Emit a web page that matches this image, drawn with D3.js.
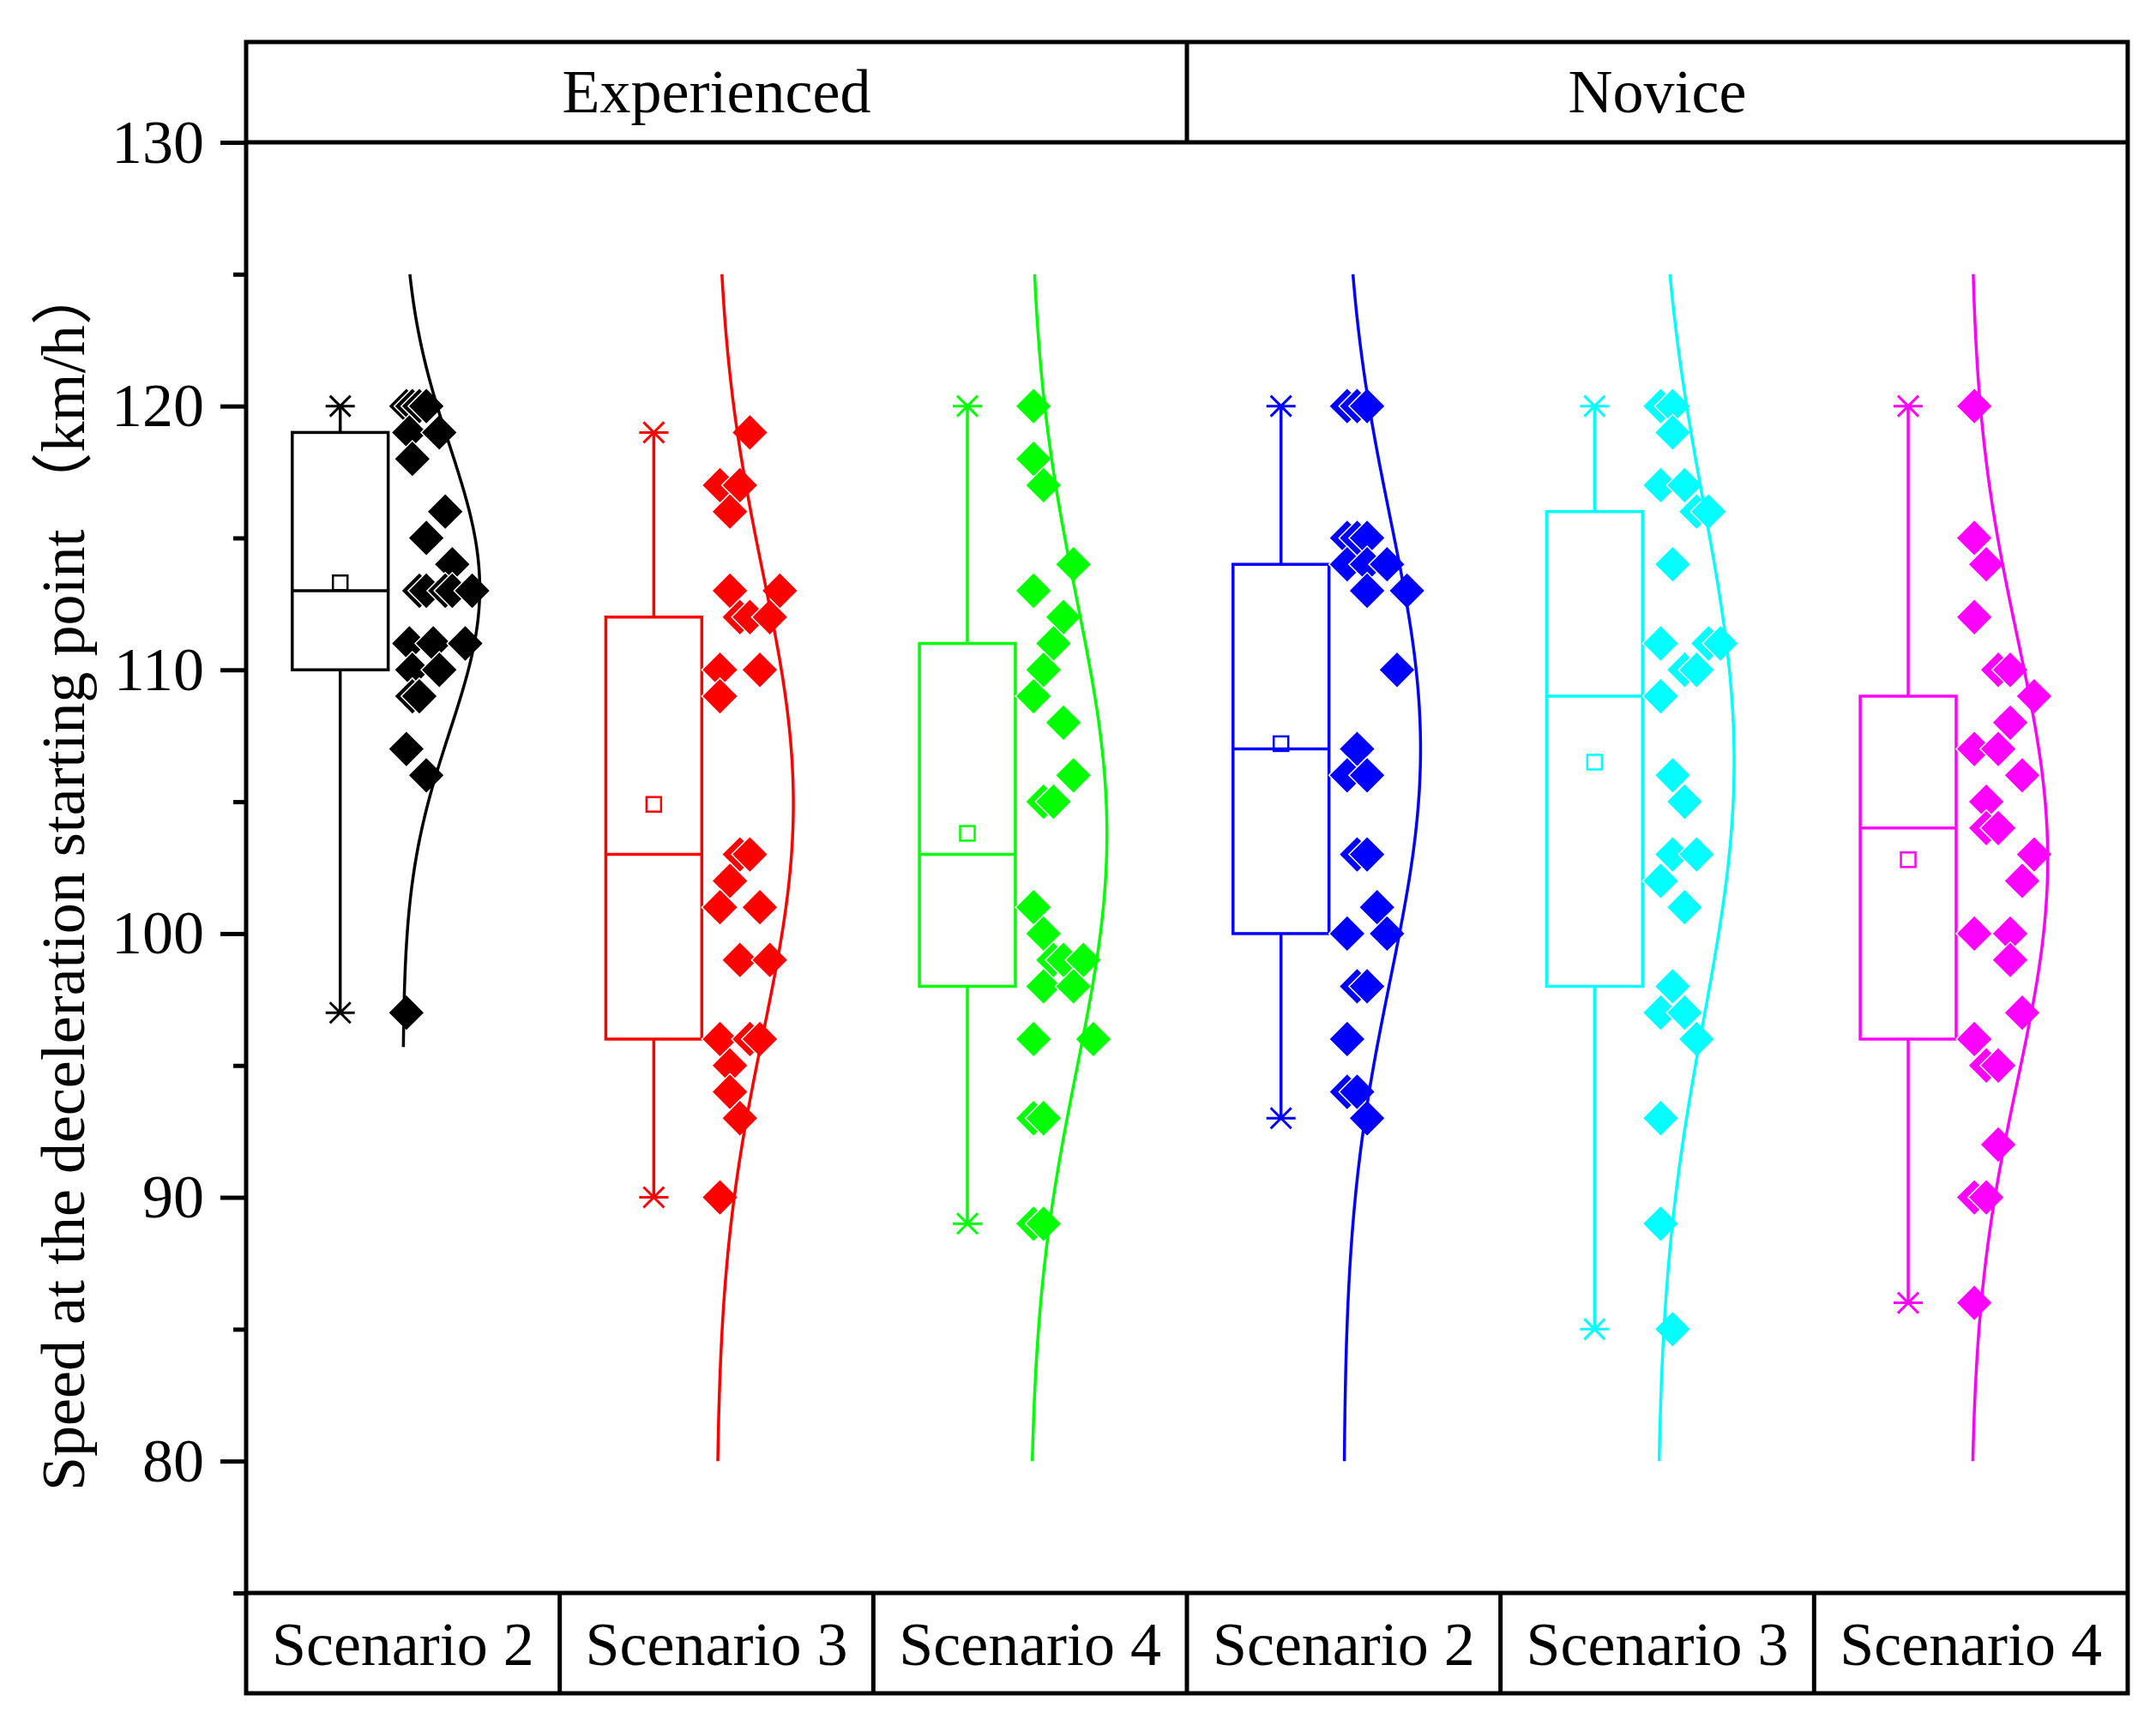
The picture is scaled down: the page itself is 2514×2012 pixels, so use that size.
<!DOCTYPE html>
<html>
<head>
<meta charset="utf-8">
<script src="https://cdn.jsdelivr.net/npm/d3@7/dist/d3.min.js"></script>
<style>
  body { margin: 0; background: #fff; }
</style>
</head>
<body>
<script>
// canvas + frame
const WIDTH = 2514;
const HEIGHT = 2012;
const LEFT = 287, RIGHT = 2481;
const TOP = 49, HEAD = 166, CATTOP = 1858, BOTTOM = 1975;
const FONT = "'Liberation Serif', 'Times New Roman', 'Noto Sans CJK SC', serif";

// categories
const driverGroups = ["Experienced", "Novice"];
const scenarios = ["Scenario 2", "Scenario 3", "Scenario 4", "Scenario 2", "Scenario 3", "Scenario 4"];
const colors = ["#000000", "#ff0000", "#00ff00", "#0000ff", "#00ffff", "#ff00ff"];
const majorTicks = [80, 90, 100, 110, 120, 130];
const minorTicks = [75, 85, 95, 105, 115, 125];

// raw speeds (km/h) and jitter column of each point
const expS2 = [120,120,120,120,119,119,118,116,115,114,113,113,113,113,113,111,111,111,110,110,109,109,107,106,97];
const expS2Jit = [0,0.6,1.3,2,0.3,3.3,0.6,3.9,2,4.6,1.3,2,3.9,4.6,6.6,0.3,2.7,5.9,0.6,3.3,0.6,1.3,0,2,0];

const expS3 = [119,117,117,116,113,113,112,112,112,110,110,109,103,103,102,101,101,99,99,96,96,96,95,94,93,90];
const expS3Jit = [3,0,2,1,1,6,2,3,5,0,4,0,2,3,1,0,4,2,5,0,3,4,1,1,2,0];

const expS4 = [120,118,117,114,113,112,111,110,109,108,106,105,105,101,100,99,99,99,98,98,96,96,93,93,89,89];
const expS4Jit = [0,0,1,4,0,3,2,1,0,3,4,1,2,0,1,2,3,5,1,4,0,6,0,1,0,1];

const novS2 = [120,120,120,115,115,115,114,114,114,113,113,110,107,106,106,103,103,101,100,100,98,98,96,94,94,93];
const novS2Jit = [0,1,2,0,1,2,0,2,4,2,6,5,1,0,2,1,2,3,0,4,1,2,0,0,1,2];

const novS3 = [120,120,119,117,117,116,116,114,111,111,111,110,110,109,106,105,103,103,102,101,98,97,97,96,93,89,85];
const novS3Jit = [0,1.2,1.2,0,2.4,3.6,4.8,1.2,0,4.8,6,2.4,3.6,0,1.2,2.4,1.2,3.6,0,2.4,1.2,0,2.4,3.6,0,0,1.2];

const novS4 = [120,115,114,112,110,110,109,108,107,107,106,105,104,104,103,102,100,100,99,97,96,95,95,92,90,90,86];
const novS4Jit = [0,0,1.2,0,2.4,3.6,6,3.6,0,2.4,4.8,1.2,1.2,2.4,6,4.8,0,3.6,3.6,4.8,0,1.2,2.4,2.4,0,1.2,0];

// box statistics
const q1 = [110, 96, 98, 100, 98, 96];
const medians = [113, 103, 103, 107, 109, 104];
const q3 = [119, 112, 111, 114, 116, 109];
const whiskerLo = [97, 90, 89, 93, 85, 86];
const whiskerHi = [120, 119, 120, 120, 120, 120];
const means = [113.3, 104.9, 103.8, 107.2, 106.5, 102.8];

// range over which each normal curve is drawn
const curveLo = [95.7, 80, 80, 80, 80, 80];
const curveHi = [125, 125, 125, 125, 125, 125];

const values = [expS2, expS3, expS4, novS2, novS3, novS4];
const jitters = [expS2Jit, expS3Jit, expS4Jit, novS2Jit, novS3Jit, novS4Jit];

const svg = d3.select("body").append("svg")
    .attr("width", WIDTH)
    .attr("height", HEIGHT)
    .style("background", "#fff");

const x = d3.scaleBand().domain(d3.range(scenarios.length)).range([LEFT, RIGHT]);
const xGroup = d3.scaleBand().domain(driverGroups).range([LEFT, RIGHT]);
const y = d3.scaleLinear().domain([75, 130]).range([CATTOP, HEAD]);

const bw = x.bandwidth();
const center = i => x(i) + bw / 2;

// y axis ticks
const yAxis = svg.append("g").attr("transform", "translate(" + LEFT + ",0)")
    .call(d3.axisLeft(y).tickValues(majorTicks).tickSize(30).tickPadding(19).tickSizeOuter(0));
yAxis.select(".domain").remove();
yAxis.selectAll("line").attr("stroke-width", 5);
yAxis.selectAll("text").attr("font-family", FONT).attr("font-size", 72).attr("fill", "#000");

const yMinor = svg.append("g").attr("transform", "translate(" + LEFT + ",0)")
    .call(d3.axisLeft(y).tickValues(minorTicks).tickSize(15).tickFormat("").tickSizeOuter(0));
yMinor.select(".domain").remove();
yMinor.selectAll("line").attr("stroke-width", 5);

// plot per group
values.forEach((vals, i) => {
    const cx = center(i);
    const col = colors[i];
    const g = svg.append("g");

    // box
    const bx = cx - 0.2 * bw;
    const hw = 0.153 * bw;
    g.append("line").attr("x1", bx).attr("x2", bx)
        .attr("y1", y(q3[i])).attr("y2", y(whiskerHi[i]))
        .attr("stroke", col).attr("stroke-width", 3.5);
    g.append("line").attr("x1", bx).attr("x2", bx)
        .attr("y1", y(q1[i])).attr("y2", y(whiskerLo[i]))
        .attr("stroke", col).attr("stroke-width", 3.5);
    g.append("rect")
        .attr("x", bx - hw).attr("width", 2 * hw)
        .attr("y", y(q3[i])).attr("height", y(q1[i]) - y(q3[i]))
        .attr("fill", "none").attr("stroke", col).attr("stroke-width", 3.5);
    g.append("line").attr("x1", bx - hw).attr("x2", bx + hw)
        .attr("y1", y(medians[i])).attr("y2", y(medians[i]))
        .attr("stroke", col).attr("stroke-width", 3.5);
    g.append("rect")
        .attr("x", bx - 8.5).attr("y", y(means[i]) - 8.5)
        .attr("width", 17).attr("height", 17)
        .attr("fill", "none").attr("stroke", col).attr("stroke-width", 2.5);

    // min / max asterisks
    [whiskerLo[i], whiskerHi[i]].forEach(v => {
        const sy = y(v);
        g.append("path")
            .attr("d", "M" + (bx - 17) + "," + sy + "h34"
                + "M" + (bx - 12) + "," + (sy - 12) + "l24,24"
                + "M" + (bx - 12) + "," + (sy + 12) + "l24,-24")
            .attr("stroke", col).attr("stroke-width", 3).attr("fill", "none");
    });

    // points
    const step = 0.0318 * bw;
    const base = cx + 0.011 * bw;
    g.selectAll(".pt").data(vals).enter().append("path")
        .attr("class", "pt")
        .attr("d", d3.symbol(d3.symbolSquare, 900))
        .attr("transform", (d, j) => "translate(" + (base + jitters[i][j] * step) + "," + y(d) + ") rotate(45)")
        .attr("fill", col)
        .attr("stroke", "#fff")
        .attr("stroke-width", 1.5);

    // normal curve
    const mu = d3.mean(vals);
    const sd = d3.deviation(vals);
    const amp = 0.245 * bw;
    const ys = d3.range(curveLo[i], curveHi[i] + 0.001, (curveHi[i] - curveLo[i]) / 200);
    const line = d3.line()
        .x(v => cx + amp * Math.exp(-0.5 * Math.pow((v - mu) / sd, 2)))
        .y(v => y(v));
    g.append("path").datum(ys)
        .attr("d", line)
        .attr("fill", "none")
        .attr("stroke", col)
        .attr("stroke-width", 3.5);
});

// frame
const frame = svg.append("g").attr("stroke", "#000").attr("stroke-width", 5).attr("fill", "none");
frame.append("rect").attr("x", LEFT).attr("y", TOP).attr("width", RIGHT - LEFT).attr("height", BOTTOM - TOP);
frame.append("line").attr("x1", LEFT).attr("x2", RIGHT).attr("y1", HEAD).attr("y2", HEAD);
frame.append("line").attr("x1", LEFT).attr("x2", RIGHT).attr("y1", CATTOP).attr("y2", CATTOP);
frame.append("line").attr("x1", xGroup("Novice")).attr("x2", xGroup("Novice")).attr("y1", TOP).attr("y2", HEAD);
d3.range(1, scenarios.length).forEach(i => {
    frame.append("line").attr("x1", x(i)).attr("x2", x(i)).attr("y1", CATTOP).attr("y2", BOTTOM);
});

// header labels
svg.selectAll(".grp").data(driverGroups).enter().append("text")
    .attr("x", d => xGroup(d) + xGroup.bandwidth() / 2)
    .attr("y", HEAD - 35)
    .attr("text-anchor", "middle")
    .attr("font-family", FONT).attr("font-size", 72)
    .text(d => d);

// category labels
svg.selectAll(".cat").data(scenarios).enter().append("text")
    .attr("x", (d, i) => center(i))
    .attr("y", BOTTOM - 33)
    .attr("text-anchor", "middle")
    .attr("font-family", FONT).attr("font-size", 72)
    .text(d => d);

// y title
svg.append("text")
    .attr("transform", "translate(98,1739) rotate(-90)")
    .attr("text-anchor", "start")
    .attr("font-family", FONT).attr("font-size", 72)
    .text("Speed at the deceleration starting point （km/h）");
</script>
</body>
</html>
